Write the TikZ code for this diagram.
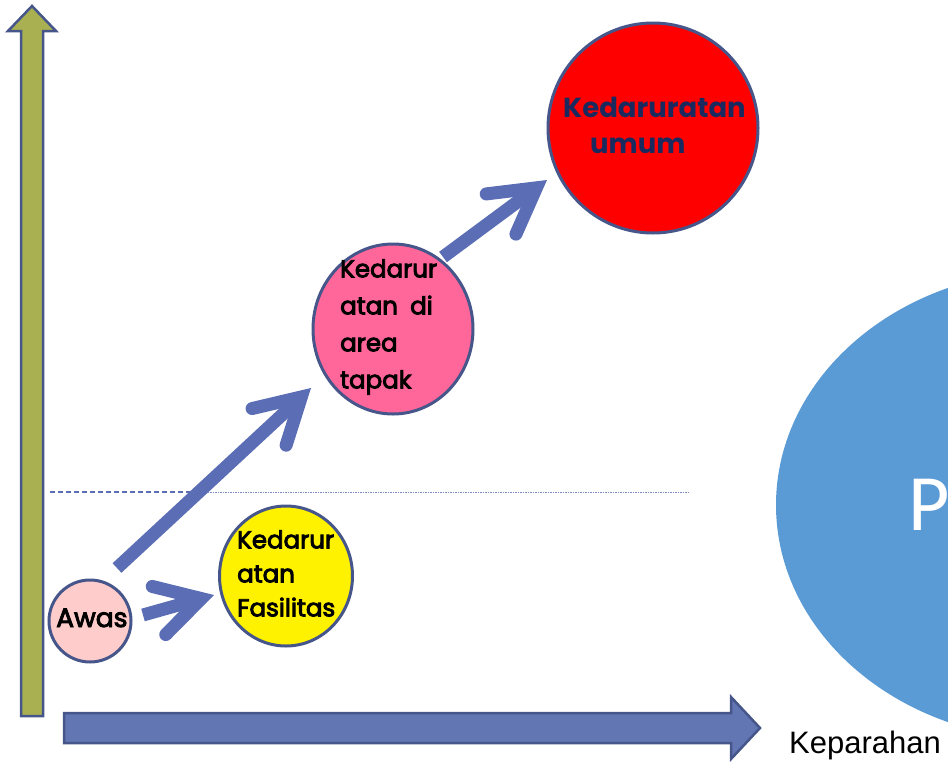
\documentclass[tikz,border=0pt]{standalone}
\usepackage{fontspec}
\usetikzlibrary{arrows.meta,shapes.geometric}
\newfontfamily\pop[FakeBold=3.5]{Poppins}
\newfontfamily\popb{Poppins}
\newfontfamily\carl{Carlito}
\newfontfamily\lsans{Liberation Sans}
\definecolor{olive}{HTML}{A9B052}
\definecolor{edge}{HTML}{46568A}
\definecolor{arr}{HTML}{5B6EB5}
\definecolor{harr}{HTML}{6176B3}
\definecolor{pinkA}{HTML}{FFCCCC}
\definecolor{pinkB}{HTML}{FF6699}
\definecolor{navy}{HTML}{1B2A5E}
\definecolor{bigblue}{HTML}{5B9BD5}
\tikzset{
  bubble/.style={circle,draw=edge,line width=3pt,inner sep=0pt},
  oval/.style={ellipse,draw=edge,line width=3pt,inner sep=0pt},
  ctext/.style={inner sep=0pt,anchor=north west,align=left,font=\pop\fontsize{24.5}{34}\selectfont},
  fatarrow/.style={draw=arr,line width=13pt,line cap=butt,
    -{Straight Barb[length=44pt,width=50pt,line cap=round,line join=miter]}},
}
\begin{document}
\begin{tikzpicture}[x=1pt,y=-1pt]
\useasboundingbox (0,0) rectangle (948,761);
\clip (0,0) rectangle (948,761);
% big ellipse
\node[ellipse,fill=bigblue,minimum width=558pt,minimum height=470pt,inner sep=0pt] (big) at (1055,505) {};
\node[anchor=base west,inner sep=0pt,text=white,font=\carl\fontsize{80}{80}\selectfont] (ptext) at (908,530) {P};
% axes
\draw[edge,line width=2.5pt,fill=olive,line join=miter] (21,716) -- (21,31) -- (8,31) -- (32,6) -- (56,31) -- (43,31) -- (43,716) -- cycle;
\draw[edge,line width=2.5pt,fill=harr,line join=miter] (64,713) -- (731,713) -- (731,697) -- (760,728) -- (731,759) -- (731,743) -- (64,743) -- cycle;
\node[anchor=base west,inner sep=0pt,font=\lsans\fontsize{31}{31}\selectfont] (kep) at (789,753) {Keparahan};
% dashed line
\coordinate (d1) at (50,492);
\coordinate (d2) at (190,492);
\coordinate (d3) at (688,492);
\draw[arr,line width=1.2pt,dash pattern=on 5pt off 3pt] (d1) -- (d2);
\draw[arr!80,line width=0.8pt,dash pattern=on 1.5pt off 1pt] (d2) -- (d3);
% arrows
\coordinate (a1s) at (143,615); \coordinate (a1t) at (214,595);
\coordinate (a2s) at (117,568); \coordinate (a2t) at (311,388);
\coordinate (a3s) at (443,257); \coordinate (a3t) at (547,180);
\draw[fatarrow] (a1s) -- (a1t);
\draw[fatarrow] (a2s) -- (a2t);
\draw[fatarrow] (a3s) -- (a3t);
% circles
\node[bubble,fill=pinkA,minimum size=82pt] (awas) at (90,621) {};
\node[oval,fill=yellow,minimum width=133pt,minimum height=140pt] (fas) at (286,576) {};
\node[oval,fill=pinkB,minimum width=160pt,minimum height=170pt] (tapak) at (393,329) {};
\node[bubble,fill=red,minimum size=210pt] (umum) at (653,128) {};
% texts
\node[anchor=base west,inner sep=0pt,font=\pop\fontsize{26.5}{26.5}\selectfont] (tawas) at (56,627) {Awas};
\node[ctext] (tfas) at (237,530) {Kedarur\\atan\\Fasilitas};
\node[ctext,font=\pop\fontsize{24.5}{37}\selectfont] (ttapak) at (340,259) {Kedarur\\atan\enspace di\\area\\tapak};
\node[ctext,text=navy,font=\popb\bfseries\fontsize{27.5}{36}\selectfont] (tumum) at (563,97) {Kedaruratan\\\hspace*{27pt}umum};
\end{tikzpicture}
\end{document}
